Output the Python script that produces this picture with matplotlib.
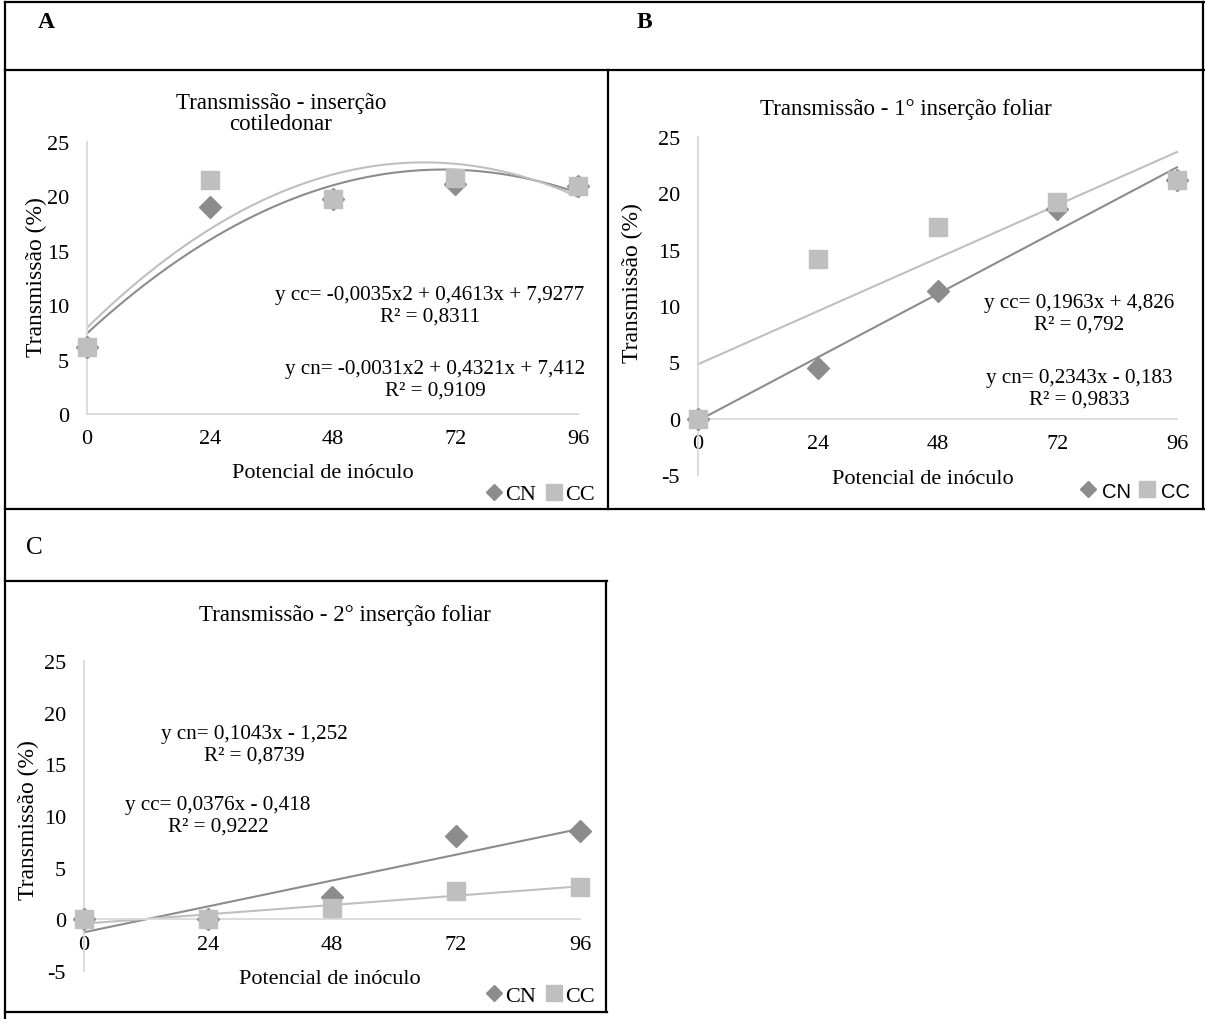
import numpy as np
import matplotlib.pyplot as plt
from matplotlib.lines import Line2D

plt.rcParams['font.family'] = ['Liberation Serif', 'DejaVu Serif']
plt.rcParams['axes.unicode_minus'] = False

W, H = 1205, 1020

# dados
x = [0, 24, 48, 72, 96]

# A - inserção cotiledonar
a_cn = [6.2, 19.0, 19.8, 21.1, 21.0]
a_cc = [6.2, 21.5, 19.8, 21.7, 21.0]
a_fit_cn = [-0.0031, 0.4321, 7.412]
a_fit_cc = [-0.0035, 0.4613, 7.9277]

# B - 1° inserção foliar
b_cn = [0.0, 4.5, 11.3, 18.6, 21.2]
b_cc = [0.0, 14.2, 17.0, 19.2, 21.2]
b_fit_cn = [0.2343, -0.183]
b_fit_cc = [0.1963, 4.826]

# C - 2° inserção foliar
c_cn = [0.0, 0.0, 2.2, 8.1, 8.5]
c_cc = [0.0, 0.0, 1.05, 2.7, 3.15]
c_fit_cn = [0.1043, -1.252]
c_fit_cc = [0.0376, -0.418]

CN_COL = '#8c8c8c'
CC_COL = '#bfbfbf'
FS = 16
EQ = 15.2


def px(x0, y0):
    # pixel (origem no topo) -> fração da figura
    return x0 / W, 1 - y0 / H


def make_ax(l, r, t, b, ymin, ymax):
    ax = fig.add_axes([l / W, 1 - b / H, (r - l) / W, (b - t) / H])
    ax.set_xlim(0, 96)
    ax.set_ylim(ymin, ymax)
    ax.set_xticks(x)
    ax.set_yticks(np.arange(ymin, ymax + 1, 5))
    for s in ['top', 'right']:
        ax.spines[s].set_visible(False)
    for s in ['left', 'bottom']:
        ax.spines[s].set_color('#d9d9d9')
        ax.spines[s].set_linewidth(1.3)
    ax.spines['bottom'].set_position(('data', 0))
    ax.tick_params(length=0, labelsize=FS, pad=13)
    ax.tick_params(axis='x', pad=11)
    ax.patch.set_alpha(0)
    return ax


def draw(ax, cn, cc, fit_cn, fit_cc):
    xs = np.linspace(0, 96, 200)
    ax.plot(xs, np.polyval(fit_cn, xs), color=CN_COL, lw=1.5, clip_on=False)
    ax.plot(xs, np.polyval(fit_cc, xs), color=CC_COL, lw=1.5, clip_on=False)
    ax.plot(x, cn, ls='none', marker='D', ms=11, color=CN_COL, clip_on=False, zorder=3)
    ax.plot(x, cc, ls='none', marker='s', ms=13, color=CC_COL, clip_on=False, zorder=4)


def eq(xc, yc, s):
    fig.text(*px(xc, yc), s, fontsize=EQ, ha='center', va='center',
             multialignment='center', linespacing=1.2)


def legend(xc, yc, family=None, gap=0.1, size=FS):
    h = [Line2D([], [], ls='none', marker='D', ms=8, color=CN_COL),
         Line2D([], [], ls='none', marker='s', ms=11, color=CC_COL)]
    prop = {'size': size}
    if family:
        prop['family'] = family
    fig.legend(h, ['CN', 'CC'], loc='center', bbox_to_anchor=px(xc, yc), ncol=2,
               frameon=False, handlelength=0.8, handletextpad=gap,
               columnspacing=0.4, prop=prop, borderpad=0)


fig = plt.figure(figsize=(W / 100, H / 100), dpi=100)

# moldura da tabela
borders = [
    ((5, 1204), (3, 3)), ((5, 5), (3, 1020)), ((1203, 1203), (3, 510)),
    ((5, 1204), (71, 71)), ((608, 608), (71, 510)), ((5, 1204), (510, 510)),
    ((5, 607), (582, 582)), ((606, 606), (582, 1013)), ((5, 607), (1013, 1013)),
]
for (x1, x2), (y1, y2) in borders:
    fig.add_artist(Line2D([x1 / W, x2 / W], [1 - y1 / H, 1 - y2 / H],
                          color='black', lw=1.6, transform=fig.transFigure))

fig.text(*px(38, 22), 'A', fontsize=17, fontweight='bold', ha='left', va='center')
fig.text(*px(637, 22), 'B', fontsize=17, fontweight='bold', ha='left', va='center')
fig.text(*px(26, 548), 'C', fontsize=18, ha='left', va='center')

# ---- A ----
ax = make_ax(87, 578, 143, 415, 0, 25)
draw(ax, a_cn, a_cc, a_fit_cn, a_fit_cc)
fig.text(*px(281, 103), 'Transmissão - inserção', fontsize=16.5, ha='center', va='center')
fig.text(*px(281, 125), 'cotiledonar', fontsize=16.5, ha='center', va='center')
fig.text(*px(36, 277), 'Transmissão (%)', fontsize=17, rotation=90, ha='center', va='center')
fig.text(*px(323, 474), 'Potencial de inóculo', fontsize=FS, ha='center', va='center')
eq(430, 306, 'y cc= -0,0035x2 + 0,4613x + 7,9277\nR² = 0,8311')
eq(435, 380, 'y cn= -0,0031x2 + 0,4321x + 7,412\nR² = 0,9109')
legend(540, 495)

# ---- B ----
ax = make_ax(698, 1177, 138, 476, -5, 25)
draw(ax, b_cn, b_cc, b_fit_cn, b_fit_cc)
fig.text(*px(906, 110), 'Transmissão - 1° inserção foliar', fontsize=16.5, ha='center', va='center')
fig.text(*px(632, 283), 'Transmissão (%)', fontsize=17, rotation=90, ha='center', va='center')
fig.text(*px(923, 480), 'Potencial de inóculo', fontsize=FS, ha='center', va='center')
eq(1079, 314, 'y cc= 0,1963x + 4,826\nR² = 0,792')
eq(1079, 389, 'y cn= 0,2343x - 0,183\nR² = 0,9833')
legend(1135, 492, family=['Liberation Sans', 'DejaVu Sans'], gap=0.3, size=14.5)

# ---- C ----
ax = make_ax(84, 580, 662, 972, -5, 25)
draw(ax, c_cn, c_cc, c_fit_cn, c_fit_cc)
fig.text(*px(345, 616), 'Transmissão - 2° inserção foliar', fontsize=16.5, ha='center', va='center')
fig.text(*px(28, 820), 'Transmissão (%)', fontsize=17, rotation=90, ha='center', va='center')
fig.text(*px(330, 980), 'Potencial de inóculo', fontsize=FS, ha='center', va='center')
eq(254, 745, 'y cn= 0,1043x - 1,252\nR² = 0,8739')
eq(218, 816, 'y cc= 0,0376x - 0,418\nR² = 0,9222')
legend(540, 997)

fig.savefig('out.png', dpi=100)
